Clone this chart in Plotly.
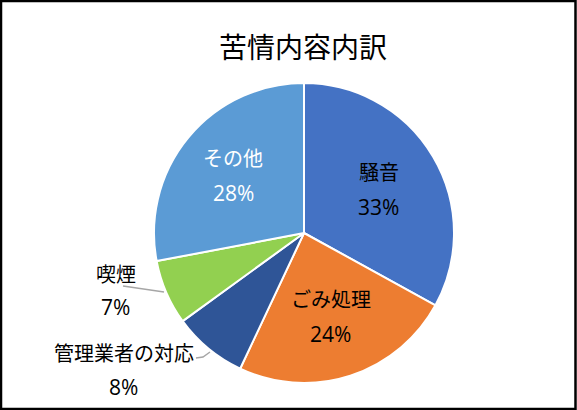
import math
import plotly.graph_objects as go

# ---- data ----
categories = ["騒音", "ごみ処理", "管理業者の対応", "喫煙", "その他"]
values = [33, 24, 8, 7, 28]
colors = ["#4472C4", "#ED7D31", "#2F5597", "#92D050", "#5B9BD5"]
title_text = "苦情内容内訳"

W, H = 577, 410
CX, CY, R = 304, 233, 150  # pie centre / radius in pixels
FONT = "Noto Sans CJK JP, Meiryo, sans-serif"
PCT_FONT = "Open Sans, Noto Sans CJK JP, sans-serif"


def px(x, y):
    return x / W, 1 - y / H


x0, y0 = px(CX - R, CY + R)
x1, y1 = px(CX + R, CY - R)

fig = go.Figure(go.Pie(
    labels=categories,
    values=values,
    marker=dict(colors=colors, line=dict(color="white", width=2)),
    sort=False,
    direction="clockwise",
    rotation=0,
    textinfo="none",
    hoverinfo="label+percent",
    showlegend=False,
    domain=dict(x=[x0, x1], y=[y0, y1]),
))

total = sum(values)
annotations = []


def add_text(x, y, text, size=20, color="black", yshift=0, family=FONT):
    a, b = px(x, y)
    annotations.append(dict(x=a, y=b, xref="paper", yref="paper", text=text,
                            showarrow=False, xanchor="center", yanchor="middle",
                            yshift=yshift, font=dict(family=family, size=size, color=color)))


cum = 0
inside = {"騒音": ("black", 0.58), "ごみ処理": ("black", 0.58), "その他": ("white", 0.61)}
outside_pos = {"喫煙": (116, 273, 115, 307), "管理業者の対応": (124, 352, 123, 387)}
for cat, v in zip(categories, values):
    mid = (cum + v / 2) / total * 2 * math.pi
    cum += v
    pct = f"{round(v / total * 100)}%"
    if cat in inside:
        col, fr = inside[cat]
        lx = CX + fr * R * math.sin(mid)
        ly = CY - fr * R * math.cos(mid)
        add_text(lx, ly, cat, color=col, yshift=17)
        add_text(lx, ly, pct, size=21, color=col, yshift=-18, family=PCT_FONT)
    else:
        nx, ny, qx, qy = outside_pos[cat]
        add_text(nx, ny, cat)
        add_text(qx, qy, pct, size=21, family=PCT_FONT)

add_text(303, 46, title_text, size=28)


def path(points):
    s = ""
    for i, (x, y) in enumerate(points):
        a, b = px(x, y)
        s += ("M" if i == 0 else "L") + f"{a},{b} "
    return s


shapes = [
    dict(type="path", xref="paper", yref="paper", path=path([(123, 286), (164, 292)]),
         line=dict(color="#A6A6A6", width=1.5)),
    dict(type="path", xref="paper", yref="paper", path=path([(196, 358), (203, 357), (210, 352)]),
         line=dict(color="#A6A6A6", width=1.5)),
    dict(type="rect", xref="paper", yref="paper", x0=1 / W, x1=575.5 / W, y0=1 / H, y1=1 - 1 / H,
         line=dict(color="black", width=2.5)),
]

fig.update_layout(
    width=W, height=H,
    margin=dict(l=0, r=0, t=0, b=0),
    paper_bgcolor="white",
    plot_bgcolor="white",
    annotations=annotations,
    shapes=shapes,
    font=dict(family=FONT),
)

fig.write_html("out.html", config={"displayModeBar": False},
               post_script="document.body.style.margin='0';document.body.style.overflow='hidden';")
